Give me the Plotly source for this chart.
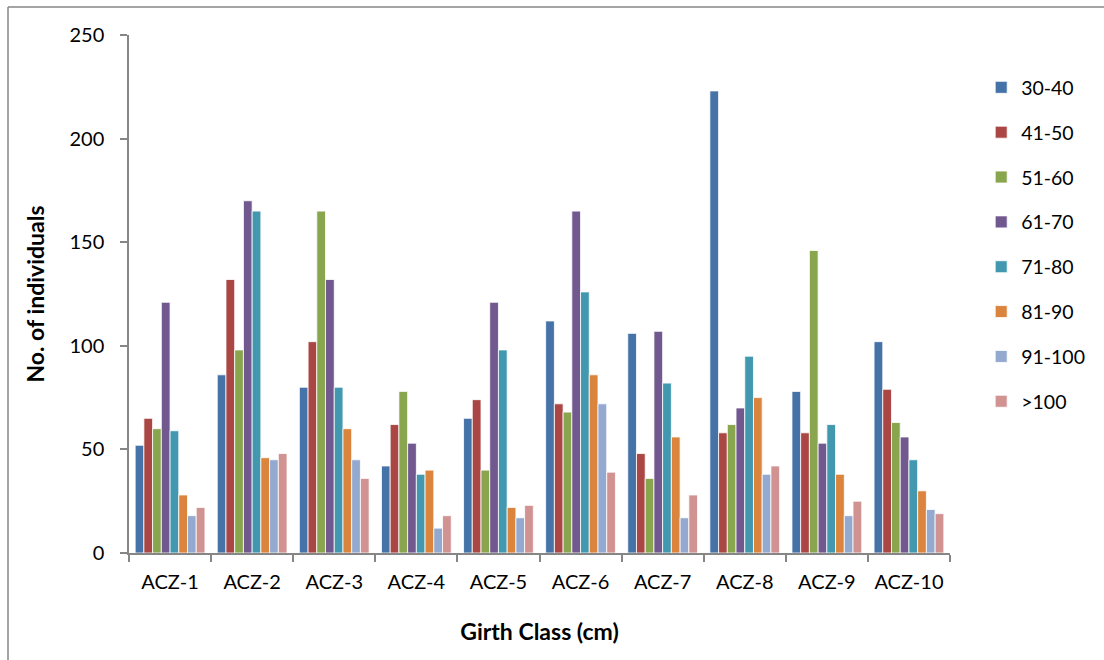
import plotly.graph_objects as go

categories = ["ACZ-1", "ACZ-2", "ACZ-3", "ACZ-4", "ACZ-5", "ACZ-6", "ACZ-7", "ACZ-8", "ACZ-9", "ACZ-10"]
series_names = ["30-40", "41-50", "51-60", "61-70", "71-80", "81-90", "91-100", ">100"]

s_30_40 = [52, 86, 80, 42, 65, 112, 106, 223, 78, 102]
s_41_50 = [65, 132, 102, 62, 74, 72, 48, 58, 58, 79]
s_51_60 = [60, 98, 165, 78, 40, 68, 36, 62, 146, 63]
s_61_70 = [121, 170, 132, 53, 121, 165, 107, 70, 53, 56]
s_71_80 = [59, 165, 80, 38, 98, 126, 82, 95, 62, 45]
s_81_90 = [28, 46, 60, 40, 22, 86, 56, 75, 38, 30]
s_91_100 = [18, 45, 45, 12, 17, 72, 17, 38, 18, 21]
s_gt100 = [22, 48, 36, 18, 23, 39, 28, 42, 25, 19]

series_values = [s_30_40, s_41_50, s_51_60, s_61_70, s_71_80, s_81_90, s_91_100, s_gt100]
colors = ["#4572A7", "#AA4643", "#89A54E", "#71588F", "#4198AF", "#DB843D", "#93A9CF", "#D19392"]

FONT = "Lato, Open Sans, sans-serif"

fig = go.Figure()
for i, (name, vals) in enumerate(zip(series_names, series_values)):
    fig.add_trace(go.Bar(
        x=categories, y=vals, name=name,
        marker=dict(color=colors[i], line=dict(color="white", width=0.8)),
        legendgroup=f"g{i}",
    ))

fig.update_layout(
    width=1104, height=660,
    margin=dict(l=129, r=154, t=35, b=107),
    paper_bgcolor="white", plot_bgcolor="white",
    barmode="group", bargap=0.15, bargroupgap=0,
    font=dict(family=FONT, size=20, color="#000000"),
    legend=dict(
        x=1.038, y=0.936, xanchor="left", yanchor="top",
        font=dict(family=FONT, size=19.5),
        tracegroupgap=16.5, itemwidth=30,
        bgcolor="rgba(0,0,0,0)",
    ),
    xaxis=dict(
        type="category", tickson="boundaries",
        ticks="outside", ticklen=7, tickcolor="#868686", tickwidth=1.5,
        showline=True, linecolor="#868686", linewidth=1.5,
        showgrid=False, ticklabelstandoff=10,
        tickfont=dict(family=FONT, size=20),
        title=dict(text="<b>Girth Class (cm)</b>", font=dict(family=FONT, size=23), standoff=32),
    ),
    yaxis=dict(
        range=[0, 250], dtick=50,
        ticks="outside", ticklen=7, tickcolor="#868686", tickwidth=1.5,
        showline=True, linecolor="#868686", linewidth=1.5,
        showgrid=False, zeroline=False, ticklabelstandoff=12,
        tickfont=dict(family=FONT, size=20),
        title=dict(text="<b>No. of individuals</b>", font=dict(family=FONT, size=23), standoff=18),
    ),
    shapes=[
        dict(type="line", xref="paper", yref="paper",
             x0=(8 - 129) / 821, x1=(1104 - 129) / 821,
             y0=(660 - 107 - 7) / 518, y1=(660 - 107 - 7) / 518,
             line=dict(color="#868686", width=1.5)),
        dict(type="line", xref="paper", yref="paper",
             x0=(8 - 129) / 821, x1=(8 - 129) / 821,
             y0=(660 - 107 - 7) / 518, y1=-107 / 518,
             line=dict(color="#868686", width=1.5)),
    ],
)

fig.write_html("out.html")
